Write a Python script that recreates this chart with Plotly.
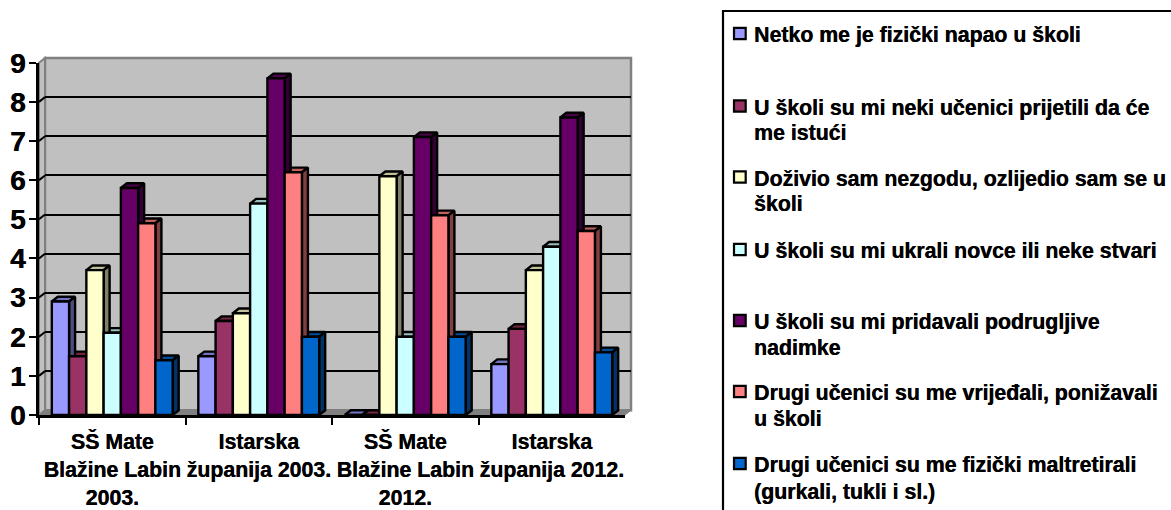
import plotly.graph_objects as go

W, H = 1171, 510

categories = ["SŠ Mate<br>Blažine Labin<br>2003.", "Istarska<br>županija 2003.",
              "SŠ Mate<br>Blažine Labin<br>2012.", "Istarska<br>županija 2012."]
netko = [2.9, 1.5, 0.0, 1.3]
prijetili = [1.5, 2.4, 0.0, 2.2]
nezgoda = [3.7, 2.6, 6.1, 3.7]
ukrali = [2.1, 5.4, 2.0, 4.3]
nadimci = [5.8, 8.6, 7.1, 7.6]
vrijedali = [4.9, 6.2, 5.1, 4.7]
maltretirali = [1.4, 2.0, 2.0, 1.6]
series_values = [netko, prijetili, nezgoda, ukrali, nadimci, vrijedali, maltretirali]
series_names = [
    ["Netko me je fizički napao u školi"],
    ["U školi su mi neki učenici prijetili da će", "me istući"],
    ["Doživio sam nezgodu, ozlijedio sam se u", "školi"],
    ["U školi su mi ukrali novce ili neke stvari"],
    ["U školi su mi pridavali podrugljive", "nadimke"],
    ["Drugi učenici su me vrijeđali, ponižavali", "u školi"],
    ["Drugi učenici su me fizički maltretirali", "(gurkali, tukli i sl.)"],
]
front_colors = ["#9999FF", "#993366", "#FFFFCC", "#CCFFFF", "#660066", "#FF8080", "#0066CC"]
top_colors = ["#7373BF", "#732640", "#BFBF99", "#99BFBF", "#4D004D", "#BF6060", "#004D99"]
side_colors = ["#4D4D80", "#4D1A33", "#808066", "#668080", "#330033", "#804040", "#003366"]
legend_y_px = [35, 107.5, 178.5, 251, 322, 393, 465]
legend_line2_gap = [0, 25.5, 25.5, 0, 25.5, 25.5, 26.5]

FONT = "Liberation Sans"
HEAVY = "0.35px 0 0 black"
X0, X1, Y0, Y9 = 39, 625, 415, 62.7
DX, DY = 6, 4.7
UX = (X1 - X0) / 4
UY = (Y0 - Y9) / 9
dx, dy = DX / UX, DY / UY
BAR_GAP = 0.175
BW = (1 - BAR_GAP) / 7


def px(x):
    return x / W


def py(y):
    return 1 - y / H


fig = go.Figure()

# Anchors the back-wall subplot, whose only visible content is its gridlines
fig.add_trace(go.Scatter(x=[None], y=[None], mode="lines", xaxis="x", yaxis="y",
                         showlegend=False, hoverinfo="skip"))

# Depth faces, drawn right to left so that each bar's side covers its neighbour's top
for i in range(6, -1, -1):
    tx, ty, sx, sy = [], [], [], []
    for c, v in enumerate(series_values[i]):
        a = c + (i - 3.5) * BW
        b = a + BW
        tx += [a, b, b + dx, a + dx, a, None]
        ty += [v, v, v + dy, v + dy, v, None]
        sx += [b, b, b + dx, b + dx, b, None]
        sy += [0, v, v + dy, dy, 0, None]
    for xs, ys, col in ((tx, ty, top_colors[i]), (sx, sy, side_colors[i])):
        fig.add_trace(go.Scatter(x=xs, y=ys, fill="toself", mode="lines", fillcolor=col,
                                 line=dict(color="black", width=2.4), xaxis="x2", yaxis="y2",
                                 showlegend=False, hoverinfo="skip"))

# Gridline returns across the left wall
wx, wy = [], []
for t in range(1, 9):
    wx += [-0.5, -0.5 + dx, None]
    wy += [t, t + dy, None]
fig.add_trace(go.Scatter(x=wx, y=wy, mode="lines", line=dict(color="black", width=2),
                         xaxis="x2", yaxis="y2", showlegend=False, hoverinfo="skip"))

# Front faces
for i, vals in enumerate(series_values):
    fig.add_trace(go.Bar(x=categories, y=vals, name=" ".join(series_names[i]),
                         marker=dict(color=front_colors[i], line=dict(color="black", width=2.4)),
                         xaxis="x3", yaxis="y3", showlegend=False))

shapes = [
    # back wall
    dict(type="rect", xref="paper", yref="paper", layer="below",
         x0=px(X0 + DX), x1=px(X1 + DX), y0=py(Y0 - DY), y1=py(Y9 - DY),
         fillcolor="#C0C0C0", line=dict(color="#808080", width=2.5)),
    # left wall
    dict(type="path", xref="paper", yref="paper", layer="below",
         path=f"M{px(X0)},{py(Y0)} L{px(X0+DX)},{py(Y0-DY)} L{px(X0+DX)},{py(Y9-DY)} L{px(X0)},{py(Y9)} Z",
         fillcolor="#C0C0C0", line=dict(color="#808080", width=2)),
    # floor
    dict(type="path", xref="paper", yref="paper", layer="below",
         path=f"M{px(X0)},{py(Y0)} L{px(X0+DX)},{py(Y0-DY)} L{px(X1+DX)},{py(Y0-DY)} L{px(X1)},{py(Y0)} Z",
         fillcolor="#808080", line=dict(color="#808080", width=1)),
    # legend frame
    dict(type="rect", xref="paper", yref="paper", layer="above",
         x0=px(723), x1=px(1190), y0=py(11), y1=py(530),
         fillcolor="rgba(0,0,0,0)", line=dict(color="black", width=2.2)),
]
annotations = []
for lines, col, y, gap in zip(series_names, front_colors, legend_y_px, legend_line2_gap):
    shapes.append(dict(type="rect", xref="paper", yref="paper", layer="above",
                       x0=px(734), x1=px(745.7), y0=py(y - 7.2), y1=py(y + 4.2),
                       fillcolor=col, line=dict(color="black", width=2.2)))
    for k, line in enumerate(lines):
        annotations.append(dict(text=line, xref="paper", yref="paper", x=px(753),
                                y=py(y + k * gap), xanchor="left", yanchor="middle", align="left",
                                showarrow=False, borderpad=0,
                                font=dict(family=FONT, size=21.3, color="black", weight="bold",
                                          shadow=HEAVY)))

front_x = [X0 / W, X1 / W]
front_y = [1 - Y0 / H, 1 - Y9 / H]
fig.update_layout(
    width=W, height=H, margin=dict(l=0, r=0, t=0, b=0, pad=0, autoexpand=False),
    paper_bgcolor="white", plot_bgcolor="rgba(0,0,0,0)",
    font=dict(family=FONT, color="black"),
    showlegend=False, barmode="group", bargap=BAR_GAP, bargroupgap=0,
    shapes=shapes, annotations=annotations,
    # back wall with its gridlines
    xaxis=dict(domain=[(X0 + DX) / W, (X1 + DX) / W], range=[-0.5, 3.5], anchor="y", automargin=False,
               showgrid=False, zeroline=False, showticklabels=False, ticks=""),
    yaxis=dict(domain=[1 - (Y0 - DY) / H, 1 - (Y9 - DY) / H], range=[0, 9], anchor="x", automargin=False,
               tickmode="array", tickvals=list(range(1, 9)), showgrid=True,
               gridcolor="black", gridwidth=2, zeroline=False, showticklabels=False, ticks=""),
    # depth faces
    xaxis2=dict(domain=front_x, range=[-0.5, 3.5], anchor="y2", showgrid=False, automargin=False,
                zeroline=False, showticklabels=False, ticks=""),
    yaxis2=dict(domain=front_y, range=[0, 9], anchor="x2", showgrid=False, automargin=False,
                zeroline=False, showticklabels=False, ticks=""),
    # front plane with the visible axes
    xaxis3=dict(overlaying="x2", anchor="y3", type="category", range=[-0.5, 3.5], automargin=False,
                tickson="boundaries", ticks="outside", ticklen=7, tickwidth=2, tickcolor="black",
                showline=True, linecolor="black", linewidth=2.5, showgrid=False, zeroline=False,
                tickangle=0, ticklabelstandoff=6,
                tickfont=dict(family=FONT, size=21.3, weight="bold", shadow=HEAVY)),
    yaxis3=dict(overlaying="y2", anchor="x3", range=[0, 9], dtick=1, ticks="outside", automargin=False,
                ticklen=7, tickwidth=2, tickcolor="black", showline=True, linecolor="black",
                linewidth=2.5, showgrid=False, zeroline=False, ticklabelstandoff=-2,
                tickfont=dict(family=FONT, size=28, weight="bold", shadow=HEAVY)),
)

fig.write_html("out.html", config={"displayModeBar": False},
               post_script="document.body.style.margin='0';")
